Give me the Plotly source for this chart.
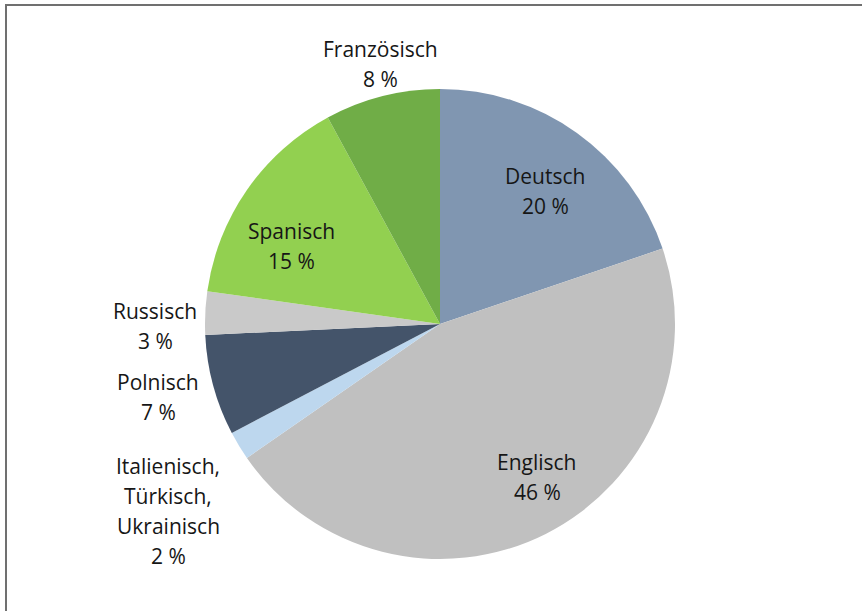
import plotly.graph_objects as go

W, H = 862, 611

LANGUAGES = ["Deutsch", "Englisch", "Italienisch,\nTürkisch,\nUkrainisch",
             "Polnisch", "Russisch", "Spanisch", "Französisch"]
SHARES = [20, 46, 2, 7, 3, 15, 8]
COLORS = ["#8096b1", "#c0c0c0", "#bdd7ee", "#44546a", "#c9c9c9", "#92d050", "#70ad47"]

# label anchor (centre x, centre y of first line) in pixels
LABEL_POS = [(545, 176), (537, 462), (168, 466), (158, 382),
             (155, 311), (291, 231), (380, 49)]
LINE_H = 30

CX, CY, R = 440, 324, 235


def px(x):
    return x / W


def py(y):
    return 1 - y / H


fig = go.Figure(
    go.Pie(
        labels=[l.replace("\n", " ") for l in LANGUAGES],
        values=SHARES,
        marker=dict(colors=COLORS, line=dict(width=0)),
        sort=False,
        direction="clockwise",
        rotation=0,
        textinfo="none",
        hoverinfo="label+percent",
        domain=dict(x=[px(CX - R), px(CX + R)], y=[py(CY + R), py(CY - R)]),
        showlegend=False,
    )
)

font = dict(family="Open Sans, Noto Sans, sans-serif", size=21, color="#161616")
for name, val, (x, y) in zip(LANGUAGES, SHARES, LABEL_POS):
    lines = name.split("\n") + [f"{val} %"]
    for i, t in enumerate(lines):
        fig.add_annotation(
            x=px(x), y=py(y + i * LINE_H), xref="paper", yref="paper",
            text=t, showarrow=False, xanchor="center", yanchor="middle",
            font=font,
        )

# frame (only top and left edges are visible in the crop)
fig.add_shape(type="rect", xref="paper", yref="paper",
              x0=px(6), y0=-0.05, x1=1.05, y1=py(5),
              line=dict(color="#707070", width=2))

fig.update_layout(
    width=W, height=H,
    margin=dict(l=0, r=0, t=0, b=0),
    paper_bgcolor="white",
    plot_bgcolor="white",
)

fig.write_html("out.html",
               config={"displayModeBar": False},
               post_script="document.body.style.margin='0';document.body.style.overflow='hidden';")
